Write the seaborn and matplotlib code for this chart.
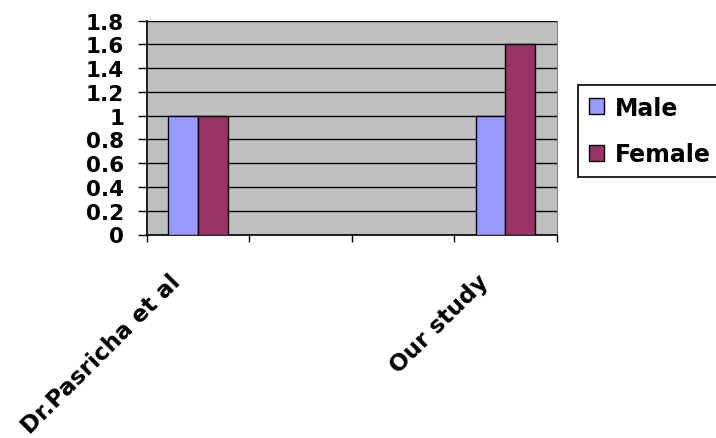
import matplotlib
matplotlib.use("Agg")
import matplotlib.pyplot as plt
import seaborn as sns
import pandas as pd
import numpy as np
from matplotlib.ticker import FixedLocator
from matplotlib.transforms import ScaledTranslation

categories = ["Dr.Pasricha et al", " ", "  ", "Our study"]
male = [1.0, np.nan, np.nan, 1.0]
female = [1.0, np.nan, np.nan, 1.6]
series = ["Male", "Female"]
colors = ["#9999FF", "#993366"]
yticks = [0, 0.2, 0.4, 0.6, 0.8, 1, 1.2, 1.4, 1.6, 1.8]
ytick_labels = ["0", "0.2", "0.4", "0.6", "0.8", "1", "1.2", "1.4", "1.6", "1.8"]

rows = []
for c, m, f in zip(categories, male, female):
    rows.append({"cat": c, "series": "Male", "value": m})
    rows.append({"cat": c, "series": "Female", "value": f})
df = pd.DataFrame(rows).dropna()

sns.set_style("white")
plt.rcParams['font.family'] = ['DejaVu Sans']
plt.rcParams['text.color'] = 'black'
plt.rcParams['xtick.color'] = 'black'
plt.rcParams['ytick.color'] = 'black'

fig = plt.figure(figsize=(7.16, 4.39), dpi=100)
ax = fig.add_axes([147/716, 1-235.5/439, (556.5-147)/716, (235.5-21.5)/439])
ax.set_facecolor("#C0C0C0")

sns.barplot(data=df, x="cat", y="value", hue="series", order=categories,
            hue_order=series, palette=colors, width=0.58, ax=ax,
            edgecolor="black", linewidth=1.0, errorbar=None, saturation=1, zorder=3)

ax.set_xlim(-0.5, 3.5)
ax.set_ylim(0, 1.8)
ax.set_yticks(yticks)
ax.set_yticklabels(ytick_labels, fontsize=15.5, fontweight="bold", color="black")
ax.yaxis.grid(True, color="black", linewidth=1.0, zorder=0)
ax.set_axisbelow(True)
ax.tick_params(axis="y", direction="out", length=6.5, width=1, color="black", pad=10, left=True)

ax.xaxis.set_minor_locator(FixedLocator([-0.5, 0.5, 1.5, 2.5, 3.5]))
ax.tick_params(axis="x", which="major", length=0, pad=25)
ax.tick_params(axis="x", which="minor", direction="out", length=5, width=1, color="black", bottom=True)
offset = ScaledTranslation(-29/100, 0, fig.dpi_scale_trans)
for lbl in ax.get_xticklabels():
    lbl.set_rotation(45)
    lbl.set_ha("right")
    lbl.set_rotation_mode("anchor")
    lbl.set_fontsize(16.7)
    lbl.set_fontweight("bold")
    lbl.set_color("black")
    lbl.set_transform(lbl.get_transform() + offset)

ax.set_xlabel("")
ax.set_ylabel("")
for s in ["left", "bottom"]:
    ax.spines[s].set_color("black")
    ax.spines[s].set_linewidth(1.2)
ax.spines["right"].set_color("#808080")
ax.spines["top"].set_visible(False)

handles, labels = ax.get_legend_handles_labels()
ax.legend_.remove()
leg = fig.legend(handles, labels, loc="upper left", bbox_to_anchor=(578/716, 1-86/439),
                 frameon=True, fancybox=False, edgecolor="black", framealpha=1,
                 prop={"size": 17, "weight": "bold"}, handlelength=0.65, handleheight=0.65,
                 handletextpad=0.45, labelspacing=0.95, borderpad=0.45, borderaxespad=0)
leg.get_frame().set_linewidth(1.2)
for t in leg.get_texts():
    t.set_color("black")

fig.savefig("out.png", dpi=100)
